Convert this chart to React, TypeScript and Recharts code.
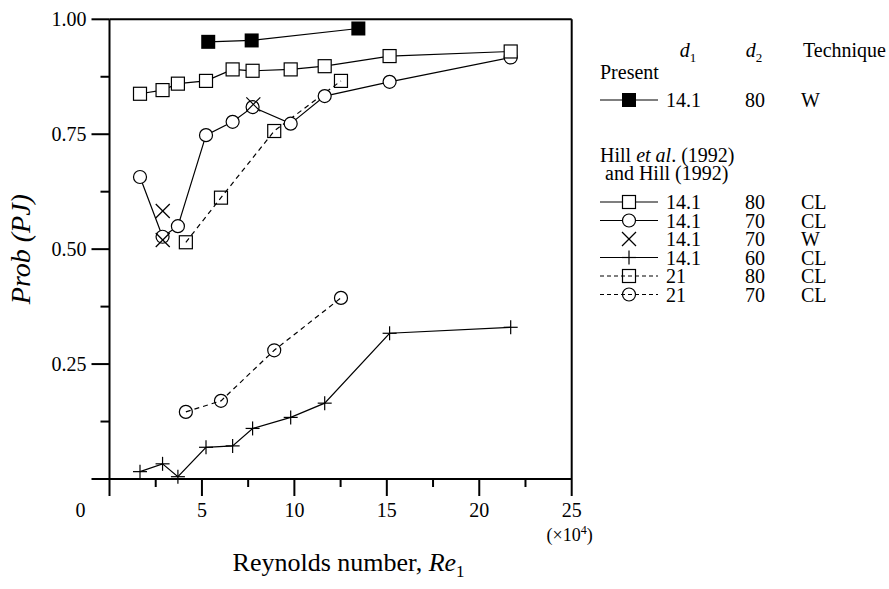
import React from 'react';
import { ScatterChart, Scatter, XAxis, YAxis, ReferenceLine, Legend } from 'recharts';

const FONT = 'Liberation Serif, Times New Roman, Times, serif';

// Re (x10^4) shared by the Hill 14.1 series
const reHill = [1.65, 2.87, 3.7, 5.22, 6.66, 7.74, 9.8, 11.64, 15.15, 21.7];
const probSquare80 = [0.838, 0.846, 0.86, 0.866, 0.891, 0.888, 0.891, 0.898, 0.92, 0.93];
const probCircle70 = [0.657, 0.527, 0.55, 0.748, 0.777, 0.809, 0.773, 0.833, 0.864, 0.917];
const probPlus60 = [0.016, 0.033, 0.005, 0.069, 0.072, 0.11, 0.134, 0.165, 0.317, 0.33];

const rePresent = [5.34, 7.69, 13.46];
const probPresent = [0.951, 0.954, 0.98];

const reCross70 = [2.88, 2.88, 7.78];
const probCross70 = [0.583, 0.52, 0.815];

const reHill21 = [4.13, 6.03, 8.91, 12.52];
const probSquare21 = [0.515, 0.612, 0.757, 0.866];
const probCircle21 = [0.146, 0.17, 0.28, 0.394];

const xTicks = [0, 2.5, 5, 7.5, 10, 12.5, 15, 17.5, 20, 22.5, 25];
const xLabels = [0, 5, 10, 15, 20, 25];
const yTicks = [0, 0.125, 0.25, 0.375, 0.5, 0.625, 0.75, 0.875, 1];
const yLabels = [0.25, 0.5, 0.75, 1];

const legendD1 = ['14.1', '14.1', '14.1', '14.1', '21', '21'];
const legendD2 = ['80', '70', '70', '60', '80', '70'];
const legendTech = ['CL', 'CL', 'W', 'CL', 'CL', 'CL'];

const toPoints = (xs: number[], ys: number[]) => xs.map((x, i) => ({ x, y: ys[i] }));

type Kind = 'filled' | 'square' | 'circle' | 'cross' | 'plus';

const Marker = ({ kind, cx, cy, dashed }: { kind: Kind; cx: number; cy: number; dashed?: boolean }) => {
  const fill = dashed ? 'none' : '#fff';
  const sw = 1.2;
  if (kind === 'filled') return <rect x={cx - 7} y={cy - 7} width={14} height={14} fill="#000" />;
  if (kind === 'square')
    return <rect x={cx - 6.5} y={cy - 6.5} width={13} height={13} fill={fill} stroke="#000" strokeWidth={sw} />;
  if (kind === 'circle') return <circle cx={cx} cy={cy} r={6.5} fill={fill} stroke="#000" strokeWidth={sw} />;
  if (kind === 'cross')
    return (
      <g stroke="#000" strokeWidth={sw}>
        <line x1={cx - 7} y1={cy - 7} x2={cx + 7} y2={cy + 7} />
        <line x1={cx - 7} y1={cy + 7} x2={cx + 7} y2={cy - 7} />
      </g>
    );
  return (
    <g stroke="#000" strokeWidth={sw}>
      <line x1={cx - 7} y1={cy} x2={cx + 7} y2={cy} />
      <line x1={cx} y1={cy - 7} x2={cx} y2={cy + 7} />
    </g>
  );
};

const series = [
  { name: 'plus60', data: toPoints(reHill, probPlus60), kind: 'plus' as Kind, line: 'solid' },
  { name: 'circle21', data: toPoints(reHill21, probCircle21), kind: 'circle' as Kind, line: 'dashed' },
  { name: 'square21', data: toPoints(reHill21, probSquare21), kind: 'square' as Kind, line: 'dashed' },
  { name: 'circle70', data: toPoints(reHill, probCircle70), kind: 'circle' as Kind, line: 'solid' },
  { name: 'square80', data: toPoints(reHill, probSquare80), kind: 'square' as Kind, line: 'solid' },
  { name: 'cross70', data: toPoints(reCross70, probCross70), kind: 'cross' as Kind, line: 'none' },
  { name: 'present', data: toPoints(rePresent, probPresent), kind: 'filled' as Kind, line: 'solid' },
];

const legendKinds: { kind: Kind; line: string }[] = [
  { kind: 'square', line: 'solid' },
  { kind: 'circle', line: 'solid' },
  { kind: 'cross', line: 'none' },
  { kind: 'plus', line: 'solid' },
  { kind: 'square', line: 'dashed' },
  { kind: 'circle', line: 'dashed' },
];

const XTick = (props: any) => {
  const { x, y, payload } = props;
  const v = payload.value;
  const major = xLabels.includes(v);
  return (
    <g>
      <line x1={x} y1={y} x2={x} y2={y + (major ? 17 : 8)} stroke="#000" strokeWidth={2} />
      {major && (
        <text x={v === 0 ? x - 29 : x} y={y + 38} textAnchor="middle" style={{ fontFamily: FONT }} fontSize={20} fill="#000">
          {v}
        </text>
      )}
    </g>
  );
};

const YTick = (props: any) => {
  const { x, y, payload } = props;
  const v = payload.value;
  const major = v === 0 || yLabels.includes(v);
  return (
    <g>
      <line x1={x - (major ? 18 : 9)} y1={y} x2={x} y2={y} stroke="#000" strokeWidth={2} />
      {yLabels.includes(v) && (
        <text x={x - 23} y={y + 7} textAnchor="end" style={{ fontFamily: FONT }} fontSize={20} fill="#000">
          {v.toFixed(2)}
        </text>
      )}
    </g>
  );
};

const LX = 580;

const LegendSymbol = ({ y, kind, line }: { y: number; kind: Kind; line: string }) => (
  <g>
    {line !== 'none' && (
      <line x1={600 - LX} y1={y} x2={658 - LX} y2={y} stroke="#000" strokeWidth={1.2} strokeDasharray={line === 'dashed' ? '4 3' : undefined} />
    )}
    <Marker kind={kind} cx={629 - LX} cy={y} dashed={line === 'dashed'} />
  </g>
);

const LegendBox = () => {
  const t = { style: { fontFamily: FONT }, fontSize: 20, fill: '#000' };
  const rowY = (i: number) => 202 + i * 18.5;
  return (
    <svg width={309} height={330} style={{ display: 'block' }}>
      <text x={688 - LX} y={57} textAnchor="middle" {...t}>
        <tspan fontStyle="italic">d</tspan>
        <tspan fontSize={13} dy={5}>1</tspan>
      </text>
      <text x={754 - LX} y={57} textAnchor="middle" {...t}>
        <tspan fontStyle="italic">d</tspan>
        <tspan fontSize={13} dy={5}>2</tspan>
      </text>
      <text x={886 - LX} y={57} textAnchor="end" {...t}>Technique</text>
      <text x={600 - LX} y={79} {...t}>Present</text>
      <LegendSymbol y={100} kind="filled" line="solid" />
      <text x={666 - LX} y={107} {...t}>14.1</text>
      <text x={745 - LX} y={107} {...t}>80</text>
      <text x={801 - LX} y={107} {...t}>W</text>
      <text x={600 - LX} y={162} {...t}>
        Hill <tspan fontStyle="italic">et al</tspan>. (1992)
      </text>
      <text x={605 - LX} y={180} {...t}>and Hill (1992)</text>
      {legendKinds.map((k, i) => (
        <g key={i}>
          <LegendSymbol y={rowY(i)} kind={k.kind} line={k.line} />
          <text x={666 - LX} y={rowY(i) + 7} {...t}>{legendD1[i]}</text>
          <text x={745 - LX} y={rowY(i) + 7} {...t}>{legendD2[i]}</text>
          <text x={801 - LX} y={rowY(i) + 7} {...t}>{legendTech[i]}</text>
        </g>
      ))}
    </svg>
  );
};

const YTitle = (props: any) => {
  const vb = props.viewBox;
  const cx = vb.x - 28.5;
  const cy = vb.y + vb.height / 2;
  return (
    <text x={cx} y={cy} transform={`rotate(-90, ${cx}, ${cy})`} textAnchor="middle" dominantBaseline="central" style={{ fontFamily: FONT }} fontSize={28} fontStyle="italic" fill="#000">
      Prob (PJ)
    </text>
  );
};

const XTitle = (props: any) => {
  const vb = props.viewBox;
  const cx = vb.x + vb.width / 2 + 8;
  return (
    <g>
      <text x={cx} y={vb.y + 92} textAnchor="middle" style={{ fontFamily: FONT }} fontSize={26} fill="#000">
        Reynolds number, <tspan fontStyle="italic">Re</tspan>
        <tspan fontSize={17} dy={6}>1</tspan>
      </text>
      <text x={vb.x + vb.width - 2} y={vb.y + 62} textAnchor="middle" style={{ fontFamily: FONT }} fontSize={18} fill="#000">
        (×10<tspan fontSize={12} dy={-7}>4</tspan>
        <tspan dy={7}>)</tspan>
      </text>
    </g>
  );
};

export default function App() {
  return (
    <div style={{ position: 'absolute', left: 0, top: 0, background: '#fff' }}>
      <ScatterChart width={889} height={589} margin={{ top: 19.3, right: 317.3, bottom: 50, left: 49.5 }}>
        <XAxis
          type="number"
          dataKey="x"
          domain={[0, 25]}
          ticks={xTicks}
          interval={0}
          height={60}
          tickSize={0}
          tickMargin={0}
          tickLine={false}
          tick={<XTick />}
          axisLine={{ stroke: '#000', strokeWidth: 2 }}
          label={{ content: <XTitle /> }}
        />
        <YAxis
          type="number"
          dataKey="y"
          domain={[0, 1]}
          ticks={yTicks}
          interval={0}
          width={60}
          tickSize={0}
          tickMargin={0}
          tickLine={false}
          tick={<YTick />}
          axisLine={{ stroke: '#000', strokeWidth: 2 }}
          label={{ content: <YTitle /> }}
        />
        <ReferenceLine y={1} stroke="#000" strokeWidth={2} />
        <ReferenceLine x={25} stroke="#000" strokeWidth={2} />
        {series.map((s) => (
          <Scatter
            key={s.name}
            name={s.name}
            data={s.data}
            fill="#000"
            isAnimationActive={false}
            line={s.line === 'none' ? false : { stroke: '#000', strokeWidth: 1.2, strokeDasharray: s.line === 'dashed' ? '5 4' : undefined }}
            lineType="joint"
            shape={(p: any) => <Marker kind={s.kind} cx={p.cx} cy={p.cy} dashed={s.line === 'dashed'} />}
          />
        ))}
        <Legend
          layout="horizontal"
          verticalAlign="middle"
          align="center"
          wrapperStyle={{ position: 'absolute', left: LX, top: 0, width: 309, height: 330 }}
          content={() => <LegendBox />}
        />
      </ScatterChart>
    </div>
  );
}
